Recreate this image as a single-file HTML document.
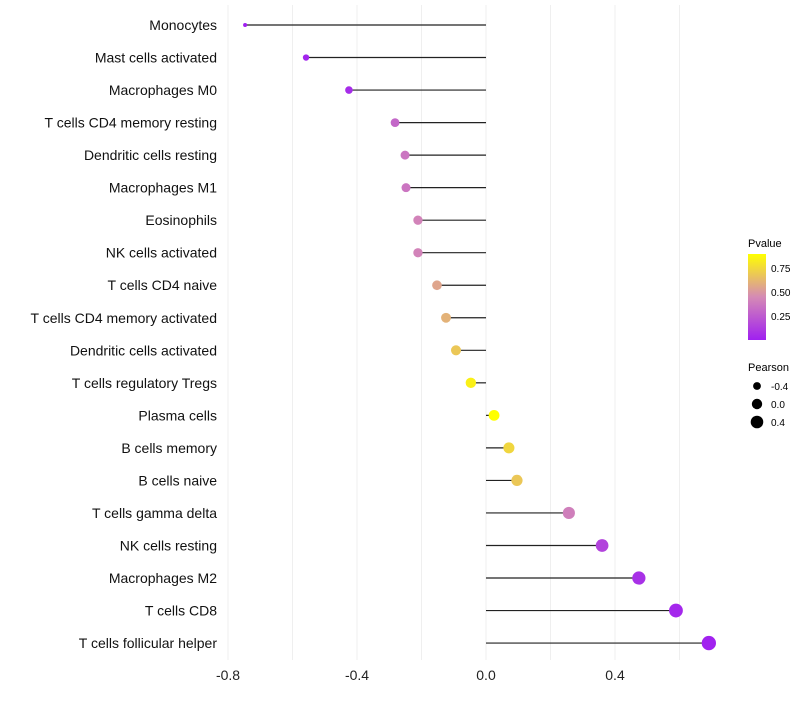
<!DOCTYPE html>
<html><head><meta charset="utf-8"><style>
body{margin:0;background:#fff;font-family:"Liberation Sans",sans-serif}
</style></head><body>
<svg id="c" width="800" height="700" xmlns="http://www.w3.org/2000/svg">
<defs><linearGradient id="g" x1="0" y1="1" x2="0" y2="0">
<stop offset="0" stop-color="#A020F0"/><stop offset="0.5" stop-color="#D58AB5"/><stop offset="1" stop-color="#FFFF00"/></linearGradient></defs>
<g id="grid"></g><g id="marks"></g><g id="labels"></g>
<g font-size="10">
<text x="748" y="247" font-size="11">Pvalue</text>
<rect x="748" y="254" width="18" height="86" fill="url(#g)"/>
<text x="771" y="272">0.75</text><text x="771" y="296">0.50</text><text x="771" y="320">0.25</text>
</g>
<g font-size="10">
<text x="748" y="371" font-size="11">Pearson</text>
<circle cx="757" cy="386" r="3.9"/><text x="771" y="390">-0.4</text>
<circle cx="757" cy="404" r="5.2"/><text x="771" y="408">0.0</text>
<circle cx="757" cy="422" r="6.3"/><text x="771" y="426">0.4</text>
</g>
</svg>
<script>
const cells=["Monocytes","Mast cells activated","Macrophages M0","T cells CD4 memory resting","Dendritic cells resting","Macrophages M1","Eosinophils","NK cells activated","T cells CD4 naive","T cells CD4 memory activated","Dendritic cells activated","T cells regulatory  Tregs ","Plasma cells","B cells memory","B cells naive","T cells gamma delta","NK cells resting","Macrophages M2","T cells CD8","T cells follicular helper"];
const pearson=[-0.747,-0.558,-0.425,-0.282,-0.251,-0.248,-0.211,-0.211,-0.152,-0.124,-0.093,-0.047,0.025,0.071,0.096,0.257,0.36,0.474,0.589,0.691];
const pvalue=[0.0,0.02,0.05,0.3,0.36,0.36,0.42,0.42,0.55,0.6,0.68,0.84,0.9,0.74,0.68,0.4,0.15,0.07,0.03,0.01];
const ticks=[-0.8,-0.4,0.0,0.4];
const tickLabels=["-0.8","-0.4","0.0","0.4"];
const NS="http://www.w3.org/2000/svg";
const x=v=>486+v*322.5, y=i=>25+i*32.53;
function mk(t,a,p){const e=document.createElementNS(NS,t);for(const k in a)e.setAttribute(k,a[k]);document.getElementById(p).appendChild(e);return e;}
function hex(h){return [1,3,5].map(i=>parseInt(h.substr(i,2),16));}
const stops=[hex("#A020F0"),hex("#D58AB5"),hex("#FFFF00")];
function col(p){let t=Math.max(0,Math.min(1,p/0.896));let s=t<0.5?0:1,f=t<0.5?t*2:(t-0.5)*2;const a=stops[s],b=stops[s+1];return "rgb("+a.map((v,i)=>Math.round(v+(b[i]-v)*f)).join(",")+")";}
const pmin=Math.min(...pearson),pmax=Math.max(...pearson);
const rad=v=>Math.sqrt(4+(v-pmin)/(pmax-pmin)*47);
for(let v=-0.8;v<=0.61;v+=0.2){const l=mk("line",{x1:x(v),x2:x(v),y1:5,y2:660,stroke:"#efefef","stroke-width":1},"grid");

}
ticks.forEach((t,i)=>{const e=mk("text",{x:x(t),y:680,"text-anchor":"middle","font-size":14,fill:"#222"},"labels");e.textContent=tickLabels[i];

});
cells.forEach((c,i)=>{
const t=mk("text",{x:217,y:y(i)+5,"text-anchor":"end","font-size":14,fill:"#111"},"labels");t.textContent=c;


const l=mk("line",{x1:x(0),x2:x(pearson[i]),y1:y(i),y2:y(i),stroke:"#222","stroke-width":1.2},"marks");


const p=mk("circle",{cx:x(pearson[i]),cy:y(i),r:rad(pearson[i]),fill:col(pvalue[i])},"marks");


});
</script>
</body></html>
